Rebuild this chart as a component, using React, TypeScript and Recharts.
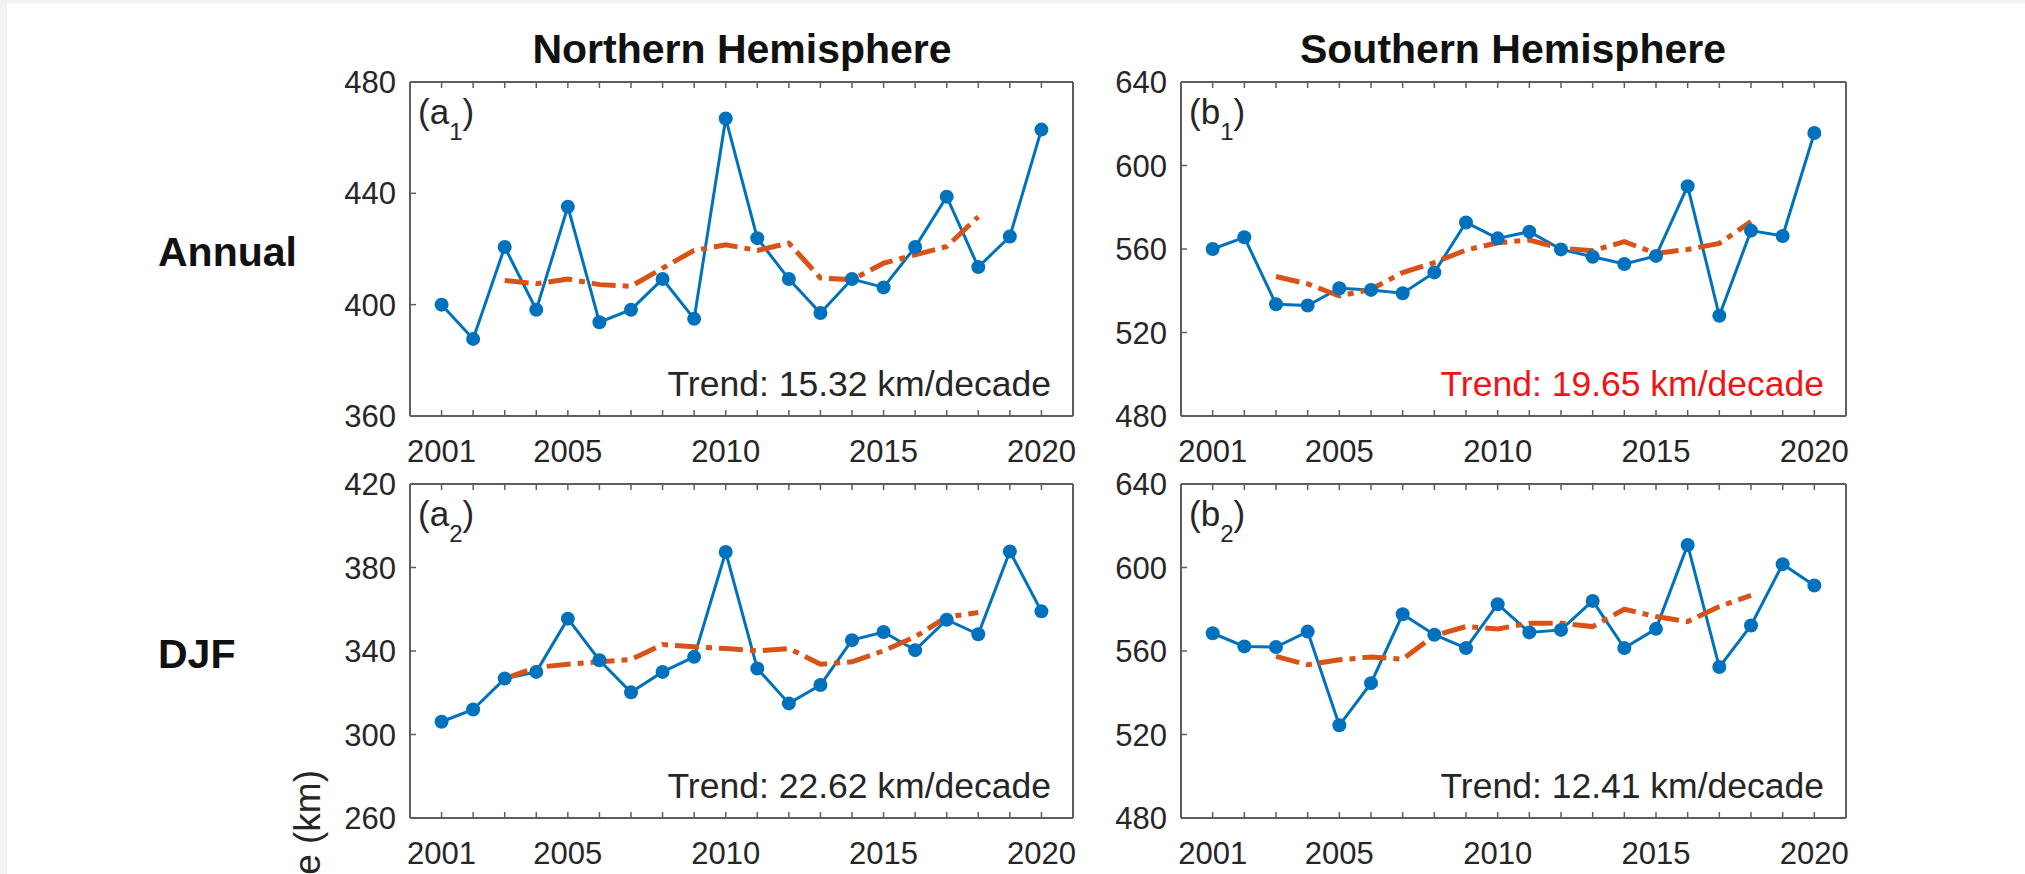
import { LineChart, Line, XAxis, YAxis } from 'recharts'

const FONT = '"Liberation Sans", Arial, Helvetica, sans-serif'
const AXIS = '#5e5e5e'
const INK = '#262626'
const BLUE = '#0072BD'
const ORANGE = '#D95319'

const years = [2001, 2002, 2003, 2004, 2005, 2006, 2007, 2008, 2009, 2010, 2011, 2012, 2013, 2014, 2015, 2016, 2017, 2018, 2019, 2020]
const yearLabels = [2001, 2005, 2010, 2015, 2020]

// northern hemisphere, annual
const nhAnnual = [400, 387.7, 420.7, 398.2, 435.2, 393.7, 398.2, 409.2, 394.9, 466.9, 423.9, 409.2, 397, 409.2, 406.2, 420.7, 438.8, 413.5, 424.5, 462.9]
const nhAnnualMA = [null, null, 408.7, 407.5, 409.2, 407.2, 406.6, 413.1, 419.5, 421.5, 419.5, 422.1, 409.6, 409, 414.9, 417.9, 420.9, 431.6, null, null]
// southern hemisphere, annual
const shAnnual = [560, 565.6, 533.5, 532.9, 541.2, 540.4, 538.8, 548.8, 572.7, 565.1, 568.3, 559.8, 556.3, 552.8, 556.7, 590.1, 528, 568.8, 566.2, 615.6]
const shAnnualMA = [null, null, 546.8, 543.3, 537.5, 540.7, 548.7, 553.5, 559.5, 563, 564.3, 560.3, 559.2, 563.5, 557.9, 559.8, 562.7, 573.1, null, null]
// northern hemisphere, DJF
const nhDJF = [306.1, 312, 326.8, 330, 355.5, 335.6, 320.2, 330, 337.2, 387.4, 331.6, 314.9, 323.7, 345.2, 349.1, 340.4, 355, 348, 387.7, 359]
const nhDJFMA = [null, null, 326.8, 332.1, 333.7, 334.8, 335.9, 343.1, 342, 341.2, 340.1, 341.2, 333.7, 334.8, 340.1, 346.8, 356.3, 358.4, null, null]
// southern hemisphere, DJF
const shDJF = [568.5, 562.2, 561.9, 569.3, 524.4, 544.6, 577.6, 567.8, 561.4, 582.4, 568.9, 570.1, 584, 561.4, 570.6, 610.8, 552.3, 572.2, 601.6, 591.4]
const shDJFMA = [null, null, 557.4, 553.4, 555.8, 557.1, 556.1, 567.4, 571.7, 570.6, 573.3, 573.3, 571.7, 580, 576.5, 574.1, 581.3, 586.6, null, null]

const nhAnnualTicks = [360, 400, 440, 480]
const shTicks = [480, 520, 560, 600, 640]
const nhDJFTicks = [260, 300, 340, 380, 420]

const rows = (v: number[], t: (number | null)[]) => years.map((year, i) => ({ year, v: v[i], t: t[i] }))

const BottomTick = (p: any) => (
  <g>
    <line x1={p.x} x2={p.x} y1={p.y} y2={p.y - 6} stroke={AXIS} strokeWidth={1.5} />
    {yearLabels.includes(p.payload.value) && (
      <text x={p.x} y={p.y + 46} textAnchor="middle" fontSize={31} fill={INK} fontFamily={FONT}>
        {p.payload.value}
      </text>
    )}
  </g>
)
const TopTick = (p: any) => <line x1={p.x} x2={p.x} y1={p.y} y2={p.y + 6} stroke={AXIS} strokeWidth={1.5} />
const LeftTick = (p: any) => (
  <g>
    <line x1={p.x} x2={p.x + 6} y1={p.y} y2={p.y} stroke={AXIS} strokeWidth={1.5} />
    <text x={p.x - 14} y={p.y + 11} textAnchor="end" fontSize={31} fill={INK} fontFamily={FONT}>
      {p.payload.value}
    </text>
  </g>
)
const RightTick = (p: any) => <line x1={p.x} x2={p.x - 6} y1={p.y} y2={p.y} stroke={AXIS} strokeWidth={1.5} />

interface PanelProps {
  frame: number[] // left, top, right, bottom of the box
  data: { year: number; v: number; t: number | null }[]
  yTicks: number[]
}

function Panel({ frame, data, yTicks }: PanelProps) {
  const [x0, y0, x1, y1] = frame
  const w = x1 - x0
  const h = y1 - y0
  const yDom = [yTicks[0], yTicks[yTicks.length - 1]]
  const axisLine = { stroke: AXIS, strokeWidth: 2 }
  return (
    <div style={{ position: 'absolute', left: x0 - 100, top: y0 - 30 }}>
      <LineChart width={w + 130} height={h + 100} data={data} margin={{ top: 20, right: 20, bottom: 10, left: 0 }}>
        <XAxis dataKey="year" type="number" domain={[2000, 2021]} ticks={years} interval={0} height={60}
          tickSize={0} tickMargin={0} tickLine={false} axisLine={axisLine} tick={(p: any) => <BottomTick {...p} />} />
        <XAxis xAxisId="top" orientation="top" dataKey="year" type="number" domain={[2000, 2021]} ticks={years} interval={0}
          height={10} tickSize={0} tickMargin={0} tickLine={false} axisLine={axisLine} tick={(p: any) => <TopTick {...p} />} />
        <YAxis type="number" domain={yDom} ticks={yTicks} interval={0} width={100}
          tickSize={0} tickMargin={0} tickLine={false} axisLine={axisLine} tick={(p: any) => <LeftTick {...p} />} />
        <YAxis yAxisId="right" orientation="right" type="number" domain={yDom} ticks={yTicks} interval={0} width={10}
          tickSize={0} tickMargin={0} tickLine={false} axisLine={axisLine} tick={(p: any) => <RightTick {...p} />} />
        <Line dataKey="v" stroke={BLUE} strokeWidth={3}
          dot={{ r: 7, fill: BLUE, stroke: BLUE, strokeWidth: 0 }} isAnimationActive={false} />
        <Line dataKey="t" stroke={ORANGE} strokeWidth={5} strokeDasharray="24 7 6 7" dot={false}
          connectNulls={false} isAnimationActive={false} />
      </LineChart>
    </div>
  )
}

// panel boxes in page pixels
const A1 = [410, 82, 1073, 416]
const B1 = [1181, 82, 1846, 416]
const A2 = [410, 484, 1073, 818]
const B2 = [1181, 484, 1846, 818]

function Tag({ frame, letter, sub }: { frame: number[]; letter: string; sub: string }) {
  return (
    <text x={frame[0] + 8} y={frame[1] + 42} fontSize={35} fill={INK} fontFamily={FONT}>
      ({letter}
      <tspan dy={16} fontSize={24}>{sub}</tspan>
      <tspan dy={-16}>)</tspan>
    </text>
  )
}

function Trend({ frame, text, color }: { frame: number[]; text: string; color: string }) {
  return (
    <text x={frame[2] - 22} y={frame[3] - 20} textAnchor="end" fontSize={35.5} fill={color} fontFamily={FONT}>
      {text}
    </text>
  )
}

export default function App() {
  return (
    <div style={{ position: 'absolute', left: 0, top: 0, width: 2025, height: 874, background: '#f1f2f4', overflow: 'hidden', fontFamily: FONT }}>
      <div style={{ position: 'absolute', left: 7, top: 3, width: 2018, height: 871, background: '#fff' }} />
      <Panel frame={A1} data={rows(nhAnnual, nhAnnualMA)} yTicks={nhAnnualTicks} />
      <Panel frame={B1} data={rows(shAnnual, shAnnualMA)} yTicks={shTicks} />
      <Panel frame={A2} data={rows(nhDJF, nhDJFMA)} yTicks={nhDJFTicks} />
      <Panel frame={B2} data={rows(shDJF, shDJFMA)} yTicks={shTicks} />
      <svg width={2025} height={874} style={{ position: 'absolute', left: 0, top: 0, pointerEvents: 'none' }}>
        <text x={742} y={63} textAnchor="middle" fontSize={41} fontWeight="bold" fill="#111" fontFamily={FONT}>Northern Hemisphere</text>
        <text x={1513} y={63} textAnchor="middle" fontSize={41} fontWeight="bold" fill="#111" fontFamily={FONT}>Southern Hemisphere</text>
        <text x={158} y={266} fontSize={41} fontWeight="bold" fill="#111" fontFamily={FONT}>Annual</text>
        <text x={158} y={668} fontSize={41} fontWeight="bold" fill="#111" fontFamily={FONT}>DJF</text>
        <text x={320} y={770} textAnchor="end" fontSize={37} fill={INK} fontFamily={FONT} transform="rotate(-90 320 770)">Distance (km)</text>
        <Tag frame={A1} letter="a" sub="1" />
        <Tag frame={B1} letter="b" sub="1" />
        <Tag frame={A2} letter="a" sub="2" />
        <Tag frame={B2} letter="b" sub="2" />
        <Trend frame={A1} text="Trend: 15.32 km/decade" color={INK} />
        <Trend frame={B1} text="Trend: 19.65 km/decade" color="#f01414" />
        <Trend frame={A2} text="Trend: 22.62 km/decade" color={INK} />
        <Trend frame={B2} text="Trend: 12.41 km/decade" color={INK} />
      </svg>
    </div>
  )
}
